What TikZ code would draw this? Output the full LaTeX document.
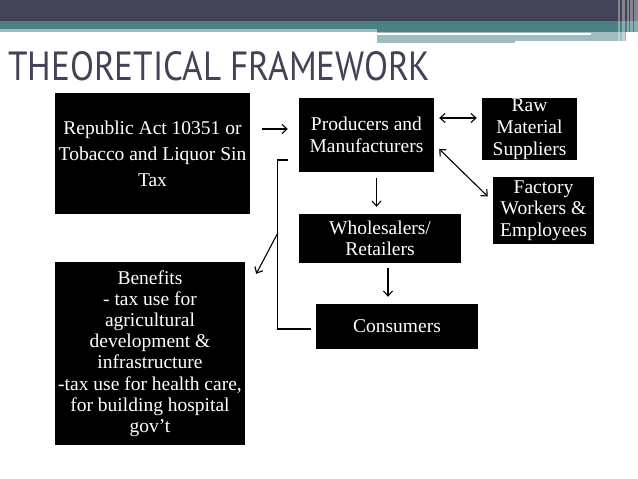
\documentclass[tikz,border=0pt]{standalone}
\usepackage{fontspec}
\setmainfont{Liberation Serif}
\setsansfont{PT Sans}
\usepackage{graphicx}
\usepackage{xcolor}
\usetikzlibrary{positioning,arrows.meta}

\definecolor{hdrdark}{HTML}{434357}
\definecolor{hdrteal}{HTML}{4A8184}
\definecolor{hdrlight}{HTML}{A0BCC0}

\begin{document}
\begin{tikzpicture}[
  x=1pt, y=-1pt,
  box/.style={fill=black, text=white, inner sep=0pt, align=center,
              font=\fontsize{19.5}{22}\selectfont},
  arr/.style={-{Straight Barb[length=5pt,width=9pt]}, line width=1.1pt},
  dbl/.style={{Straight Barb[length=5pt,width=9pt]}-{Straight Barb[length=5pt,width=9pt]},
              line width=1.1pt},
  brk/.style={line width=1.1pt}
]
% Scale: 1pt = 1px of the slide (638 x 479), y grows downwards

%% --- Page -----------------------------------------------------
\fill[white] (0,0) rectangle (638,479);
\useasboundingbox (0,0) rectangle (638,479);

%% --- Header bands ---------------------------------------------
\fill[hdrdark]  (0,0)   rectangle (638,21);
\fill[hdrteal]  (0,21)  rectangle (638,29);
\fill[hdrteal]  (377,29) rectangle (638,32);
\fill[hdrlight] (0,29)  rectangle (377,32);
\fill[hdrlight] (377,32) rectangle (515,43);
\fill[hdrlight] (515,32) rectangle (626,41);
\fill[white]    (377,33) rectangle (591,35);
\foreach \x/\w in {618/2, 622/3, 627/1.5, 630/2.5, 634/4}{
  \fill[white, opacity=0.35] (\x,0) rectangle ++(\w,43);
}

%% --- Title ----------------------------------------------------
\node[anchor=base west, inner sep=0pt, text=hdrdark] (title) at (8,81)
     {\resizebox{422pt}{29pt}{\sffamily THEORETICAL FRAMEWORK}};

%% --- Boxes ----------------------------------------------------
\node[box, minimum width=195pt, minimum height=121pt,
      font=\fontsize{19.5}{26}\selectfont] (act) at (152.5,153.5)
     {Republic Act 10351 or\\Tobacco and Liquor Sin\\Tax};
\node[box, minimum width=135pt, minimum height=74pt] (prod) at (366.5,135)
     {Producers and\\Manufacturers};
\node[box, minimum width=95pt, minimum height=62pt] (raw) at (529.5,129)
     {Raw\\Material\\Suppliers};
\node[box, minimum width=101pt, minimum height=67pt,
      font=\fontsize{19.5}{21.5}\selectfont] (fact) at (543.5,210.5)
     {Factory\\Workers \&\\Employees};
\node[box, minimum width=162pt, minimum height=49pt,
      font=\fontsize{19.5}{21}\selectfont] (whole) at (380,238.5)
     {Wholesalers/\\Retailers};
\node[box, minimum width=162pt, minimum height=45pt] (cons) at (397,326.5)
     {Consumers};
\node[box, minimum width=190pt, minimum height=183pt,
      font=\fontsize{19.5}{21.2}\selectfont] (ben) at (150,353.5)
     {Benefits\\- tax use for\\agricultural\\development \&\\infrastructure\\%
      -tax use for health care,\\for building hospital\\gov’t};

%% --- Connectors -----------------------------------------------
\draw[arr] ([xshift=12pt,yshift=6pt]act.east |- prod.west)
        -- ([xshift=-11pt,yshift=6pt]prod.west);
\draw[dbl] ([xshift=5pt,yshift=17pt]prod.east)
        -- ([xshift=-5pt,yshift=17pt]raw.west |- prod.east);
\draw[dbl] ([xshift=5pt,yshift=-14pt]prod.east)
        -- ([xshift=-5pt,yshift=14pt]fact.west);
\draw[arr] ([xshift=10pt,yshift=-6pt]prod.south)
        -- ([xshift=10pt,yshift=7pt]prod.south |- whole.north);
\draw[arr] ([xshift=8pt,yshift=-5pt]whole.south)
        -- ([xshift=8pt,yshift=7pt]whole.south |- cons.north);

%% --- Bracket back to benefits ---------------------------------
\draw[brk] ([xshift=-11pt,yshift=-25pt]prod.west) -- ++(-10,0)
     coordinate (btop) |- ([xshift=-5pt,yshift=-2.5pt]cons.west);
\path (btop) ++(0,73) coordinate (bmid);
\draw[arr] (bmid) -- ([xshift=11pt,yshift=-12pt]ben.north east);

\end{tikzpicture}
\end{document}
